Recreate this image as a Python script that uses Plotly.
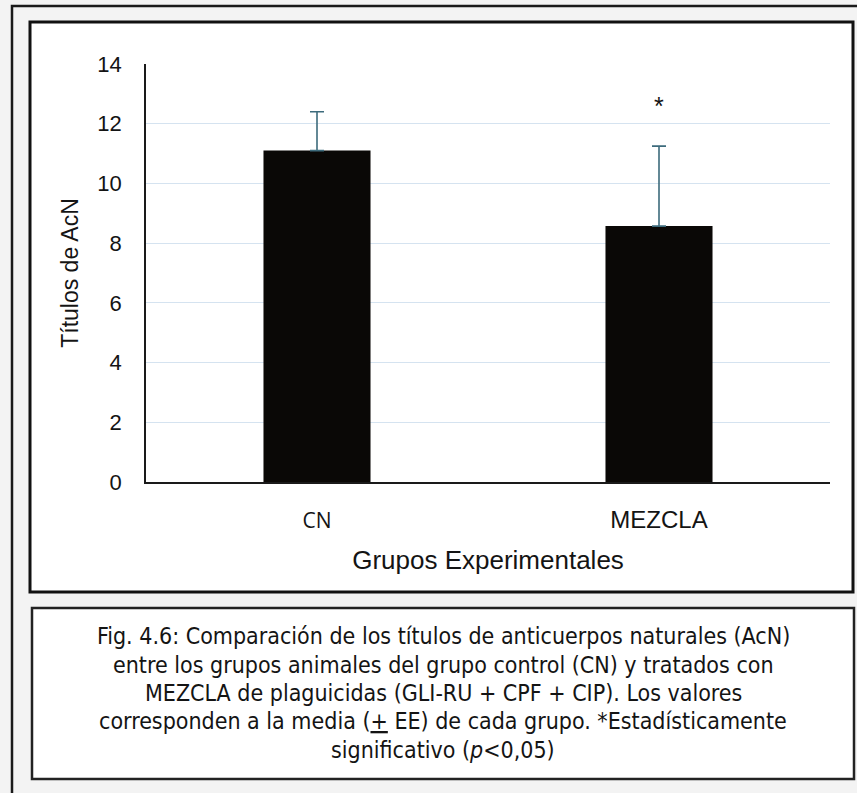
import plotly.graph_objects as go

# Group means of natural antibody titres with their standard errors
groups = ["CN", "MEZCLA"]
means = [11.1, 8.57]
std_err = [1.3, 2.68]
significant = [False, True]

y_ticks = [0, 2, 4, 6, 8, 10, 12, 14]

x_title = "Grupos Experimentales"
y_title = "Títulos de AcN"
caption_lines = [
    "Fig. 4.6: Comparación de los títulos de anticuerpos naturales (AcN)",
    "entre los grupos animales del grupo control (CN) y tratados con",
    "MEZCLA de plaguicidas (GLI-RU + CPF + CIP). Los valores",
    "corresponden a la media (<u>+</u> EE) de cada grupo. *Estadísticamente",
    "significativo (<i>p</i>&lt;0,05)",
]

W, H = 857, 793
# plot area in pixels
PL, PR, PT, PB = 146, 830, 64, 482

def px(x):
    return (x - PL) / (PR - PL)

def py(y):
    return (PB - y) / (PB - PT)

SANS = "Arial, Liberation Sans, sans-serif"
NARROW = "DejaVu Sans Condensed, sans-serif"
TXT = "#141414"

tick_text = [
    "<span style='font-family:Open Sans;font-size:21px'>CN</span>" if g == "CN" else g
    for g in groups
]

fig = go.Figure()
fig.add_trace(go.Bar(
    x=groups,
    y=means,
    marker=dict(color="#0a0806", line=dict(width=0)),
    error_y=dict(
        type="data", symmetric=False, array=std_err, arrayminus=[0] * len(means),
        color="#3d6b7c", thickness=1.6, width=7,
    ),
    showlegend=False,
))

shapes = [
    # outer page frame
    dict(type="rect", xref="paper", yref="paper",
         x0=px(12), x1=px(880), y0=py(820), y1=py(6),
         line=dict(color="#1a1a1a", width=2.5), fillcolor="#f3f3f3", layer="below"),
    # chart frame
    dict(type="rect", xref="paper", yref="paper",
         x0=px(30), x1=px(853), y0=py(592), y1=py(22),
         line=dict(color="#111111", width=3), fillcolor="white", layer="below"),
    # caption frame
    dict(type="rect", xref="paper", yref="paper",
         x0=px(32), x1=px(854), y0=py(779), y1=py(608),
         line=dict(color="#222222", width=2.5), fillcolor="white", layer="below"),
]

annotations = []
for g, m, e, s in zip(groups, means, std_err, significant):
    if s:
        annotations.append(dict(
            x=g, y=m + e, xref="x", yref="y", text="*", showarrow=False,
            yanchor="bottom", yshift=24,
            font=dict(family=SANS, size=25, color=TXT),
        ))

for i, line in enumerate(caption_lines):
    annotations.append(dict(
        x=px(443), y=py(636 + 28.5 * i), xref="paper", yref="paper",
        text=line, showarrow=False, xanchor="center", yanchor="middle",
        font=dict(family=NARROW, size=23, color=TXT),
    ))

fig.update_layout(
    width=W, height=H,
    margin=dict(l=PL, r=W - PR, t=PT, b=H - PB, pad=0),
    paper_bgcolor="#f3f3f3",
    plot_bgcolor="white",
    bargap=0.687,
    shapes=shapes,
    annotations=annotations,
    xaxis=dict(
        tickmode="array", tickvals=groups, ticktext=tick_text,
        tickfont=dict(family=SANS, size=24, color=TXT),
        ticks="", ticklabelstandoff=15,
        showline=True, linecolor="#1a1a1a", linewidth=2,
        showgrid=False, zeroline=False,
        title=dict(text=x_title, font=dict(family=SANS, size=26, color=TXT), standoff=18),
    ),
    yaxis=dict(
        range=[0, 14], tickvals=y_ticks,
        tickfont=dict(family=SANS, size=22, color=TXT),
        ticks="", ticklabelstandoff=18,
        showline=True, linecolor="#1a1a1a", linewidth=1.5,
        showgrid=True, gridcolor="#d5e3f0", gridwidth=1.2,
        zeroline=False,
        title=dict(text=y_title, font=dict(family=SANS, size=23, color=TXT), standoff=12),
    ),
)

fig.write_html("out.html")
